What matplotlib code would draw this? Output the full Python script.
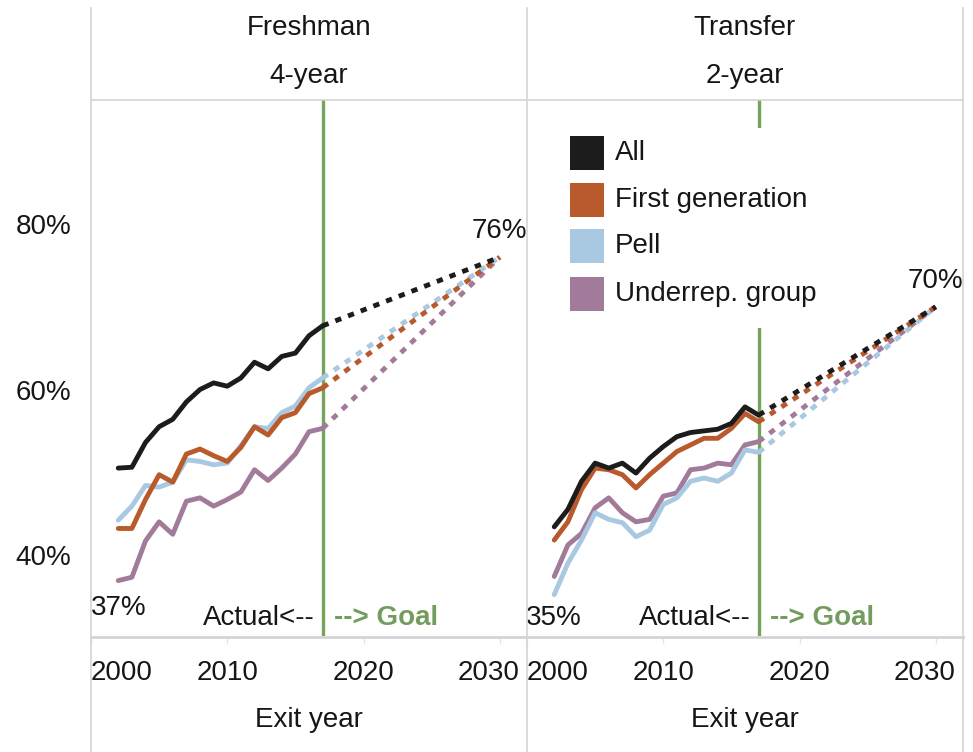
import matplotlib
matplotlib.use("Agg")
import matplotlib.pyplot as plt
from matplotlib.lines import Line2D
from matplotlib.patches import Rectangle
import matplotlib.transforms as mtransforms

plt.rcParams['font.family'] = ['Liberation Sans', 'DejaVu Sans']

# ---------------- data ----------------
years = [2002, 2003, 2004, 2005, 2006, 2007, 2008, 2009, 2010,
         2011, 2012, 2013, 2014, 2015, 2016, 2017]
goal_year = 2030
actual_end_year = 2017

fresh_all = [50.5, 50.6, 53.6, 55.5, 56.4, 58.5, 60.0, 60.8, 60.4, 61.4, 63.3, 62.5, 64.0, 64.4, 66.5, 67.7]
fresh_first = [43.2, 43.2, 46.7, 49.7, 48.8, 52.2, 52.8, 52.0, 51.3, 53.0, 55.5, 54.5, 56.6, 57.2, 59.5, 60.2]
fresh_pell = [44.2, 45.9, 48.4, 48.2, 48.8, 51.5, 51.3, 50.9, 51.1, 53.2, 55.5, 55.3, 57.2, 58.0, 60.2, 61.4]
fresh_urg = [36.9, 37.3, 41.7, 44.0, 42.5, 46.5, 46.9, 45.9, 46.7, 47.6, 50.3, 49.0, 50.5, 52.2, 54.9, 55.3]
fresh_goal = 76

trans_all = [43.4, 45.5, 48.9, 51.1, 50.5, 51.1, 49.9, 51.7, 53.1, 54.3, 54.8, 55.0, 55.2, 55.9, 57.9, 56.9]
trans_first = [41.8, 44.0, 47.9, 50.5, 50.3, 49.7, 48.1, 49.7, 51.1, 52.5, 53.3, 54.1, 54.1, 55.3, 57.1, 56.1]
trans_pell = [35.2, 39.0, 41.8, 45.1, 44.3, 43.9, 42.2, 43.0, 46.1, 46.9, 48.9, 49.3, 48.9, 49.9, 52.7, 52.4]
trans_urg = [37.4, 41.2, 42.6, 45.7, 46.9, 45.1, 44.0, 44.3, 47.1, 47.5, 50.3, 50.5, 51.1, 50.9, 53.3, 53.7]
trans_goal = 70

panel_titles = [("Freshman", "4-year"), ("Transfer", "2-year")]
group_names = ["All", "First generation", "Pell", "Underrep. group"]
group_colors = ["#1c1c1c", "#b85a2c", "#a9c9e2", "#a27b9a"]
x_ticks = [2000, 2010, 2020, 2030]
y_ticks = [40, 60, 80]
y_tick_labels = ["40%", "60%", "80%"]

panels = [
    dict(series=[fresh_all, fresh_first, fresh_pell, fresh_urg], goal=fresh_goal,
         start_label="37%", start_series=3, start_off=-27),
    dict(series=[trans_all, trans_first, trans_pell, trans_urg], goal=trans_goal,
         start_label="35%", start_series=2, start_off=-23),
]

GREEN = "#76a35c"
GOAL_GREEN = "#739c5e"
GRID = "#d4d4d4"
TXT = "#161616"
FS = 20

W, H = 973, 752
fig = plt.figure(figsize=(W / 100, H / 100), dpi=100)
fig.patch.set_facecolor("white")

xl, xm, xr = 91, 527, 963
yt, yb = 100, 636

def fx(px):
    return px / W

def fy(py):
    return 1 - py / H

axes = []
for i in range(2):
    left = xl if i == 0 else xm
    right = xm if i == 0 else xr
    ax = fig.add_axes([fx(left), fy(yb), fx(right - left), fy(yt) - fy(yb)])
    axes.append(ax)

for i, (ax, p) in enumerate(zip(axes, panels)):
    ax.set_xlim(2000, 2032)
    ax.set_ylim(30.2, 95)
    for s in ax.spines.values():
        s.set_visible(False)
    ax.set_facecolor("white")

    for k in [3, 2, 1, 0]:
        vals = p["series"][k]
        ax.plot(years, vals, color=group_colors[k], lw=3.5,
                solid_joinstyle="round", solid_capstyle="round", zorder=3 + (3 - k) * 0.1)
    for k in [3, 2, 1, 0]:
        vals = p["series"][k]
        ax.plot([years[-1], goal_year], [vals[-1], p["goal"]], color=group_colors[k],
                lw=3.5, dashes=(1.3, 1.5), dash_capstyle="butt", zorder=3 + (3 - k) * 0.1)

    ax.axvline(actual_end_year, color=GREEN, lw=2.4, zorder=2)

    ax.annotate(f"{p['goal']}%", (goal_year, p["goal"]), xytext=(0, 18.5),
                textcoords="offset points", ha="center", va="center", fontsize=FS,
                color=TXT, zorder=6)
    s = p["start_series"]
    ax.annotate(p["start_label"], (years[0], p["series"][s][0]),
                xytext=(0, p["start_off"] * 0.72), textcoords="offset points",
                ha="center", va="center", fontsize=FS, color=TXT, zorder=6)

    trans = mtransforms.blended_transform_factory(ax.transData, ax.transAxes)
    yy = (yb - 618) / (yb - yt)
    ax.annotate("Actual<--", (actual_end_year, yy), xycoords=trans, xytext=(-6, 0),
                textcoords="offset points", ha="right", va="center", fontsize=FS,
                color=TXT)
    ax.annotate("--> Goal", (actual_end_year, yy), xycoords=trans, xytext=(8, 0),
                textcoords="offset points", ha="left", va="center", fontsize=FS,
                color=GOAL_GREEN, fontweight="bold")

    ax.set_xticks(x_ticks)
    ax.set_xticklabels([str(t) for t in x_ticks], fontsize=FS, color=TXT)
    ax.tick_params(axis="x", length=6, width=1, color="#e6e6e6", pad=11)
    lbls = ax.get_xticklabels()
    lbls[0].set_horizontalalignment("left")
    lbls[-1].set_horizontalalignment("right")

    if i == 0:
        ax.set_yticks(y_ticks)
        ax.set_yticklabels(y_tick_labels, fontsize=FS, color=TXT)
        ax.tick_params(axis="y", length=0, pad=14)
    else:
        ax.set_yticks([])

    ax.text(0.5, (yb - 28) / (yb - yt), panel_titles[i][0], transform=ax.transAxes,
            ha="center", va="center", fontsize=FS, color=TXT)
    ax.text(0.5, (yb - 76) / (yb - yt), panel_titles[i][1], transform=ax.transAxes,
            ha="center", va="center", fontsize=FS, color=TXT)
    ax.text(0.5, (yb - 720) / (yb - yt), "Exit year", transform=ax.transAxes,
            ha="center", va="center", fontsize=FS, color=TXT)

for ax in axes:
    lbls = ax.get_xticklabels()
    off = mtransforms.ScaledTranslation(20 / 100, 0, fig.dpi_scale_trans)
    lbls[-1].set_transform(lbls[-1].get_transform() + off)

# legend in transfer panel (drawn manually in figure pixel space)
leg_box = Rectangle((fx(556), fy(328)), fx(835) - fx(556), fy(128) - fy(328),
                    transform=fig.transFigure, facecolor="white", edgecolor="none", zorder=5)
fig.add_artist(leg_box)
row_centers = [153, 200, 246, 294]
for name, col, yc in zip(group_names, group_colors, row_centers):
    sq = Rectangle((fx(570), fy(yc + 17)), fx(34), fy(yc - 17) - fy(yc + 17),
                   transform=fig.transFigure, facecolor=col, edgecolor="none", zorder=6)
    fig.add_artist(sq)
    fig.text(fx(615), fy(yc), name, ha="left", va="center", fontsize=FS, color=TXT, zorder=6)

for x in (xl, xm, xr):
    fig.add_artist(Line2D([fx(x), fx(x)], [fy(8), fy(H)], color=GRID, lw=1.2))
fig.add_artist(Line2D([fx(xl), fx(xr)], [fy(yt), fy(yt)], color=GRID, lw=1.2))
fig.add_artist(Line2D([fx(xl), fx(xr)], [fy(yb + 1), fy(yb + 1)], color=GRID, lw=2.0))

fig.savefig("out.png", dpi=100, facecolor="white")
